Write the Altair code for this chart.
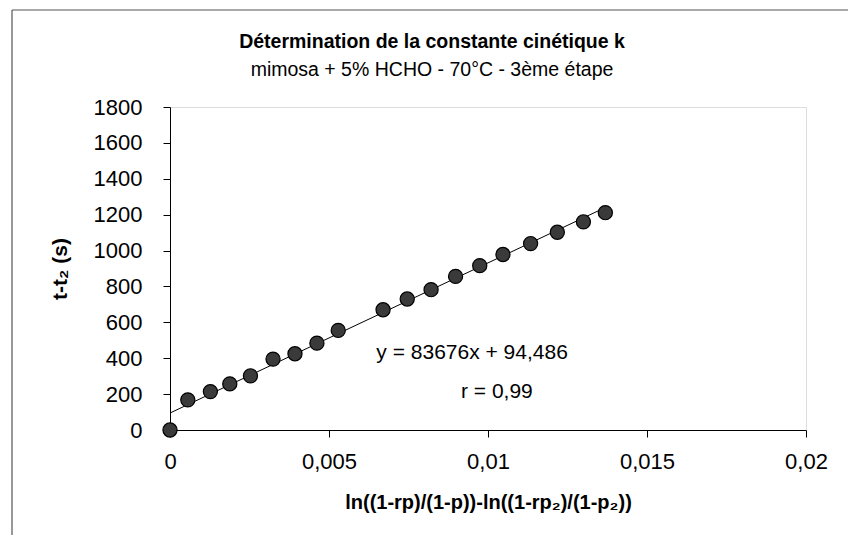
import altair as alt
import pandas as pd

# ---- data ----
x_vals = [0, 0.00056, 0.00127, 0.00188, 0.00253, 0.00324, 0.00393, 0.00462, 0.00529,
          0.00670, 0.00746, 0.00821, 0.00898, 0.00974, 0.01047, 0.01134, 0.01218,
          0.01300, 0.01369]
y_vals = [0, 168, 214, 257, 302, 395, 425, 484, 555,
          670, 730, 782, 856, 916, 978, 1039, 1102, 1160, 1211]
slope = 83676
intercept = 94.486
x_ticks = [0, 0.005, 0.01, 0.015, 0.02]
y_ticks = [0, 200, 400, 600, 800, 1000, 1200, 1400, 1600, 1800]
eq_text = ["y = 83676x + 94,486", "r = 0,99"]
title_text = "Détermination de la constante cinétique k"
subtitle_text = "mimosa + 5% HCHO - 70°C - 3ème étape"

FONT = "Liberation Sans"

df = pd.DataFrame({"x": x_vals, "y": y_vals})

xscale = alt.Scale(domain=[0, 0.02], nice=False, zero=False)
yscale = alt.Scale(domain=[0, 1800], nice=False)

xaxis = alt.Axis(
    values=x_ticks,
    labelExpr="replace(toString(datum.value), '.', ',')",
    title="ln((1-rp)/(1-p))-ln((1-rp₂)/(1-p₂))",
    titleFont=FONT, titleFontSize=20, titleFontWeight="bold", titleColor="black",
    titleX=318, titleY=72, titleBaseline="middle",
    labelFont=FONT, labelFontSize=22, labelColor="black", labelPadding=14,
    tickSize=7, tickColor="black", domainColor="black", grid=False,
    labelFlush=False, labelOverlap=False,
)
yaxis = alt.Axis(
    values=y_ticks, format="d",
    title="t-t₂ (s)",
    titleFont=FONT, titleFontSize=21, titleFontWeight="bold", titleColor="black",
    titleX=-110, titleY=161.5, titleBaseline="middle", titleAngle=-90,
    labelFont=FONT, labelFontSize=22, labelColor="black", labelPadding=21,
    tickSize=7, tickColor="black", domainColor="black", grid=False,
    labelOverlap=False, labelFlush=False,
)

base = alt.Chart(df)

trend = base.transform_calculate(
    yfit=f"{slope} * datum.x + {intercept}"
).mark_line(color="black", strokeWidth=1).encode(
    x=alt.X("x:Q", scale=xscale, axis=xaxis),
    y=alt.Y("yfit:Q", scale=yscale, axis=yaxis),
)

points = base.mark_point(
    shape="circle", filled=True, size=200, fill="#3a3a3a", stroke="black",
    strokeWidth=1.2, opacity=1,
).encode(
    x=alt.X("x:Q", scale=xscale, axis=xaxis),
    y=alt.Y("y:Q", scale=yscale, axis=yaxis),
)

ann_df = pd.DataFrame({"x": [0.0095, 0.01028], "y": [430, 212], "t": eq_text})
ann = alt.Chart(ann_df).mark_text(
    font=FONT, fontSize=21, color="black", align="center", baseline="middle"
).encode(
    x=alt.X("x:Q", scale=xscale, axis=xaxis),
    y=alt.Y("y:Q", scale=yscale, axis=yaxis),
    text="t:N",
)

one = alt.Data(values=[{}])
title_mark = alt.Chart(one).mark_text(
    font=FONT, fontSize=19.5, fontWeight="bold", color="black",
    align="center", baseline="middle", text=title_text,
).encode(x=alt.value(262), y=alt.value(-65))
subtitle_mark = alt.Chart(one).mark_text(
    font=FONT, fontSize=19.5, color="black",
    align="center", baseline="middle", text=subtitle_text,
).encode(x=alt.value(262), y=alt.value(-37))

frame_left = alt.Chart(one).mark_rule(color="#555", strokeWidth=1.2).encode(
    x=alt.value(-158), y=alt.value(-97), y2=alt.value(428)
)
frame_top = alt.Chart(one).mark_rule(color="#555", strokeWidth=1.2).encode(
    x=alt.value(-158), x2=alt.value(678), y=alt.value(-97)
)

chart = alt.layer(
    trend, points, ann, title_mark, subtitle_mark, frame_left, frame_top
).properties(
    width=636,
    height=323,
    autosize=alt.AutoSizeParams(type="none"),
    padding={"left": 162, "top": 99, "right": 42, "bottom": 105},
).configure_view(stroke="black", strokeWidth=1).configure(background="white")

chart.save("out.html", embed_options={"renderer": "svg", "actions": False})
